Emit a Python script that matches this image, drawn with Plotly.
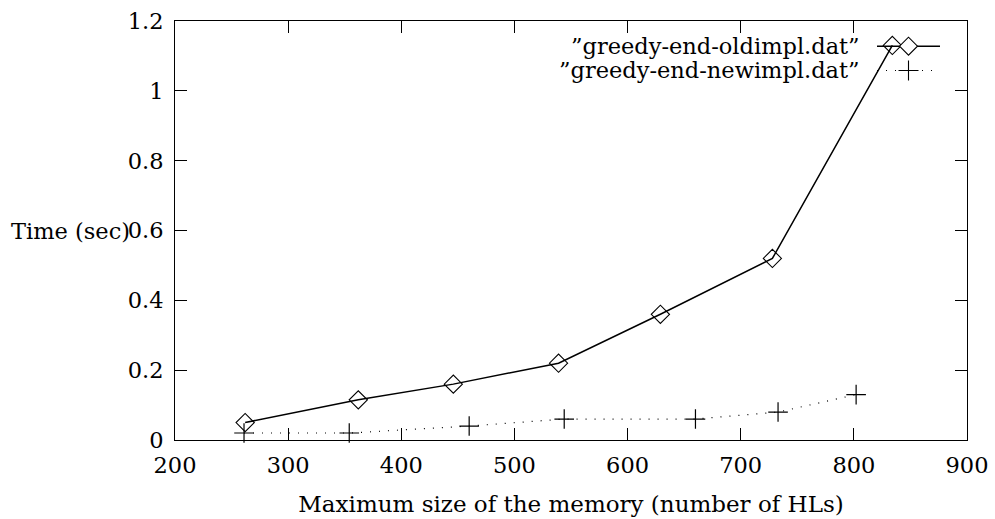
import plotly.graph_objects as go

# Data
old_x = [262, 362, 446, 539, 629, 728, 834]
old_y = [0.05, 0.115, 0.16, 0.22, 0.36, 0.52, 1.13]
new_x = [261, 354, 460, 544, 660, 733, 802]
new_y = [0.02, 0.02, 0.04, 0.06, 0.06, 0.08, 0.13]

x_ticks = [200, 300, 400, 500, 600, 700, 800, 900]
y_ticks = [0, 0.2, 0.4, 0.6, 0.8, 1.0, 1.2]
y_tick_text = ["0", "0.2", "0.4", "0.6", "0.8", "1", "1.2"]

legend_old = "”greedy-end-oldimpl.dat”"
legend_new = "”greedy-end-newimpl.dat”"
x_title = "Maximum size of the memory (number of HLs)"
y_title = "Time (sec)"

FONT = "DejaVu Serif"
FS = 22.5

fig = go.Figure()
fig.add_trace(go.Scatter(
    x=old_x, y=old_y, mode="lines+markers",
    line=dict(color="black", width=1.5),
    marker=dict(symbol="diamond-open", size=14, color="black", line=dict(width=1.1, color="black")),
    showlegend=False, cliponaxis=False))
fig.add_trace(go.Scatter(
    x=new_x, y=new_y, mode="lines+markers",
    line=dict(color="black", width=1.2, dash="1px,8px"),
    marker=dict(symbol="cross-thin-open", size=14, color="black", line=dict(width=1.2, color="black")),
    showlegend=False, cliponaxis=False))

# Plot-area geometry (pixels)
L, R, T, B = 175, 967, 21, 440
W, H = 995, 519

def px(xp):
    return (xp - L) / (R - L)

def py(yp):
    return (B - yp) / (B - T)

shapes = []
annotations = []
rows = [(legend_old, 46.2, "solid"), (legend_new, 70.5, "dot")]
for text, ypix, kind in rows:
    annotations.append(dict(
        text=text, xref="paper", yref="paper", x=px(862), y=py(ypix),
        xanchor="right", yanchor="middle", showarrow=False,
        font=dict(family=FONT, size=FS, color="black")))
    shapes.append(dict(
        type="line", xref="paper", yref="paper",
        x0=px(877), x1=px(940), y0=py(ypix), y1=py(ypix),
        line=dict(color="black", width=1.5 if kind == "solid" else 1.2,
                  dash="solid" if kind == "solid" else "1px,8px")))
    if kind == "solid":
        path = "M -9 0 L 0 -9 L 9 0 L 0 9 Z"
    else:
        path = "M -10 0 L 10 0 M 0 -10 L 0 10"
    shapes.append(dict(
        type="path", xref="paper", yref="paper",
        xsizemode="pixel", ysizemode="pixel",
        xanchor=px(908.5), yanchor=py(ypix), path=path,
        fillcolor="white" if kind == "solid" else None,
        line=dict(color="black", width=1.1)))

annotations.append(dict(
    text=y_title, xref="paper", yref="y", x=px(70), y=0.6,
    xanchor="center", yanchor="middle", showarrow=False,
    font=dict(family=FONT, size=FS, color="black")))

fig.update_layout(
    width=W, height=H,
    margin=dict(l=L, r=W - R, t=T, b=H - B),
    paper_bgcolor="white", plot_bgcolor="white",
    font=dict(family=FONT, size=FS, color="black"),
    shapes=shapes, annotations=annotations,
    xaxis=dict(
        range=[200, 900], tickvals=x_ticks, ticks="inside", ticklen=12,
        tickcolor="black", tickwidth=1, showline=True, linecolor="black",
        linewidth=1, mirror="ticks", showgrid=False, zeroline=False,
        ticklabelstandoff=5, automargin=False,
        title=dict(text=x_title, standoff=18, font=dict(family=FONT, size=23)),
        tickfont=dict(family=FONT, size=FS)),
    yaxis=dict(
        range=[0, 1.2], tickvals=y_ticks, ticktext=y_tick_text, ticks="inside",
        ticklen=12, tickcolor="black", tickwidth=1, showline=True,
        linecolor="black", linewidth=1, mirror="ticks", showgrid=False,
        ticklabelstandoff=6, automargin=False,
        zeroline=False, tickfont=dict(family=FONT, size=FS)),
)

fig.write_html("out.html")
